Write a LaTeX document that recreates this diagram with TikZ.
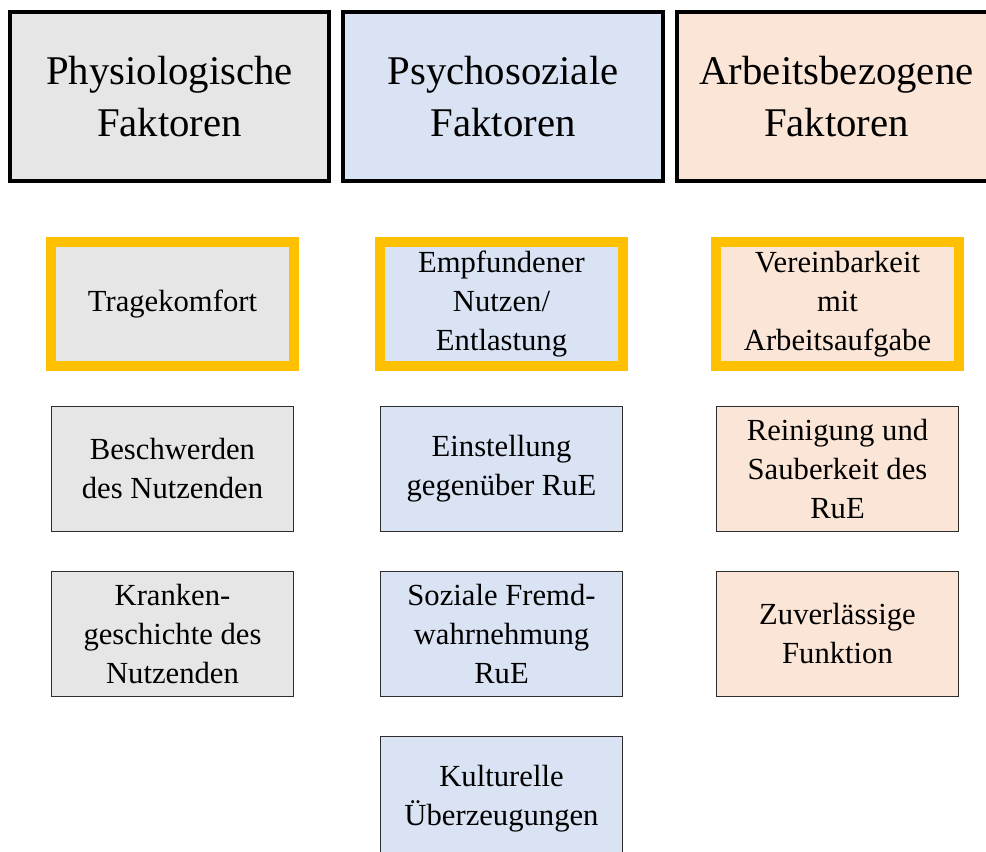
\documentclass[tikz,border=0pt]{standalone}
\usepackage{fontspec}
\setmainfont{Liberation Serif}
\usepackage{tikz}
\usetikzlibrary{positioning}
\definecolor{mygray}{RGB}{230,230,230}
\definecolor{myblue}{RGB}{218,227,243}
\definecolor{mypeach}{RGB}{251,229,214}
\definecolor{myyellow}{RGB}{255,192,0}
\definecolor{mydark}{RGB}{45,45,45}
\tikzset{
  head/.style={rectangle, draw=black, line width=2.8pt,
    minimum width=7.98cm, minimum height=4.23cm, align=center,
    font=\fontsize{29}{37}\selectfont, inner sep=0pt, outer sep=0pt},
  box/.style={rectangle, draw=mydark, line width=0.7pt,
    minimum width=6.05cm, minimum height=3.12cm, align=center,
    font=\fontsize{21.8}{27.7}\selectfont, inner sep=0pt, outer sep=0pt},
  keybox/.style={box, draw=myyellow, line width=7.1pt},
  graybox/.style={box, fill=mygray},
  bluebox/.style={box, fill=myblue},
  peachbox/.style={box, fill=mypeach}
}
\begin{document}
\begin{tikzpicture}[x=0.025cm, y=-0.025cm, node distance=1cm]
  \clip (0,0) rectangle (986,852);
  % column heads
  \node[head, fill=mygray] (phys) at (169.5,96.5) {Physiologische\\Faktoren};
  \node[head, fill=myblue] (psych) at (503,96.5) {Psychosoziale\\Faktoren};
  \node[head, fill=mypeach] (arb) at (836.5,96.5) {Arbeitsbezogene\\Faktoren};

  % physiological
  \node[keybox, fill=mygray] (trag) at (172.5,304) {Tragekomfort};
  \node[graybox, below=of trag] (beschw) {Beschwerden\\des Nutzenden};
  \node[graybox, below=of beschw] (krank) {Kranken-\\geschichte des\\Nutzenden};

  % psychosocial
  \node[keybox, fill=myblue] (nutzen) at (501.5,304) {Empfundener\\Nutzen/\\Entlastung};
  \node[bluebox, below=of nutzen] (einst) {Einstellung\\gegenüber RuE};
  \node[bluebox, below=of einst] (fremd) {Soziale Fremd-\\wahrnehmung\\RuE};
  \node[bluebox, below=of fremd] (kult) {Kulturelle\\Überzeugungen};

  % work related
  \node[keybox, fill=mypeach] (verein) at (837.5,304) {Vereinbarkeit\\mit\\Arbeitsaufgabe};
  \node[peachbox, below=of verein] (rein) {Reinigung und\\Sauberkeit des\\RuE};
  \node[peachbox, below=of rein] (zuver) {Zuverlässige\\Funktion};
\end{tikzpicture}
\end{document}
